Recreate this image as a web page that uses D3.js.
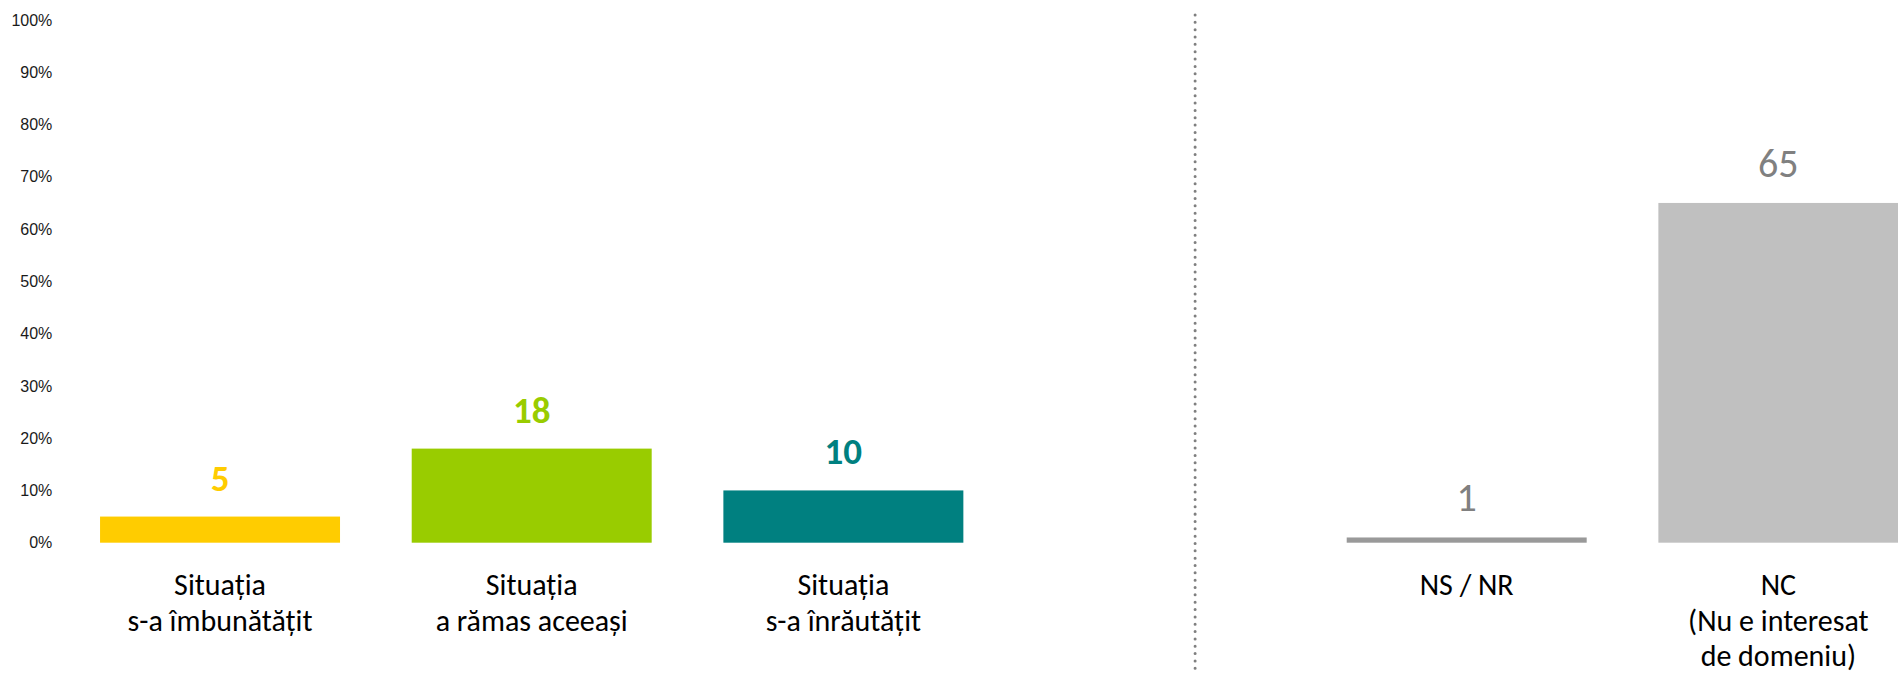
<!DOCTYPE html>
<html>
<head>
<meta charset="utf-8">
<script src="https://cdn.jsdelivr.net/npm/d3@7"></script>
<style>
  html, body { margin: 0; padding: 0; background: #fff; }
  svg { display: block; }
</style>
</head>
<body>
<svg id="chart" width="1898" height="675"></svg>
<script>
// Answer groups: the evaluated situation, then the non-answers
const situationCategories = ["Situația\ns-a îmbunătățit", "Situația\na rămas aceeași", "Situația\ns-a înrăutățit"];
const otherCategories = ["NS / NR", "NC\n(Nu e interesat\nde domeniu)"];
const situationValues = [5, 18, 10];
const otherValues = [1, 65];
const situationColors = ["#FFCC00", "#99CC00", "#008080"];
const otherColors = ["#999999", "#C0C0C0"];
const otherLabelColor = "#808080";
const yTicks = [0, 10, 20, 30, 40, 50, 60, 70, 80, 90, 100];

const GAP = "__gap__";

const bars = [
  ...situationCategories.map((c, i) => ({ cat: c, value: situationValues[i], color: situationColors[i], labelColor: situationColors[i], bold: true })),
  ...otherCategories.map((c, i) => ({ cat: c, value: otherValues[i], color: otherColors[i], labelColor: otherLabelColor, bold: false }))
];

const svg = d3.select("#chart");

const x = d3.scaleBand()
  .domain([...situationCategories, GAP, ...otherCategories])
  .range([64.2, 1934.2])
  .paddingInner(0.23)
  .paddingOuter(0.115);

const y = d3.scaleLinear().domain([0, 100]).range([542.7, 20]);

// Percentage axis, labels only
const yAxis = d3.axisLeft(y)
  .tickValues(yTicks)
  .tickFormat(d => d + "%")
  .tickSize(0)
  .tickPadding(0);

svg.append("g")
  .attr("transform", "translate(52.3,0)")
  .call(yAxis)
  .call(g => g.select(".domain").remove())
  .selectAll("text")
  .attr("font-family", "Arial, 'Liberation Sans', sans-serif")
  .attr("font-size", 16)
  .attr("fill", "#1a1a1a");

// Dotted separator between the two answer groups
const sepX = x(GAP) + x.bandwidth() * 0.667;
svg.append("line")
  .attr("x1", sepX).attr("x2", sepX)
  .attr("y1", 15).attr("y2", 675)
  .attr("stroke", "#7f7f7f")
  .attr("stroke-width", 3)
  .attr("stroke-linecap", "round")
  .attr("stroke-dasharray", "0.01 7.33");

// Bars
svg.append("g").selectAll("rect")
  .data(bars)
  .join("rect")
  .attr("x", d => x(d.cat))
  .attr("width", x.bandwidth())
  .attr("y", d => y(d.value))
  .attr("height", d => y(0) - y(d.value))
  .attr("fill", d => d.color);

// Value labels
svg.append("g").selectAll("text")
  .data(bars)
  .join("text")
  .attr("x", d => x(d.cat) + x.bandwidth() / 2)
  .attr("y", d => y(d.value) - 26)
  .attr("text-anchor", "middle")
  .attr("font-family", "Calibri, Carlito, Lato, sans-serif")
  .attr("font-weight", d => d.bold ? 700 : 400)
  .attr("font-size", d => d.bold ? 37 : 40)
  .attr("fill", d => d.labelColor)
  .text(d => d.value);

// Category labels (multi-line)
const catLabels = svg.append("g").selectAll("text")
  .data(bars)
  .join("text")
  .attr("text-anchor", "middle")
  .attr("font-family", "Calibri, Carlito, Lato, sans-serif")
  .attr("font-size", 30)
  .attr("fill", "#000");

catLabels.each(function(d) {
  const cx = x(d.cat) + x.bandwidth() / 2;
  d3.select(this).selectAll("tspan")
    .data(d.cat.split("\n"))
    .join("tspan")
    .attr("x", cx)
    .attr("y", (line, i) => 595 + i * 35.5)
    .text(line => line);
});
</script>
</body>
</html>
